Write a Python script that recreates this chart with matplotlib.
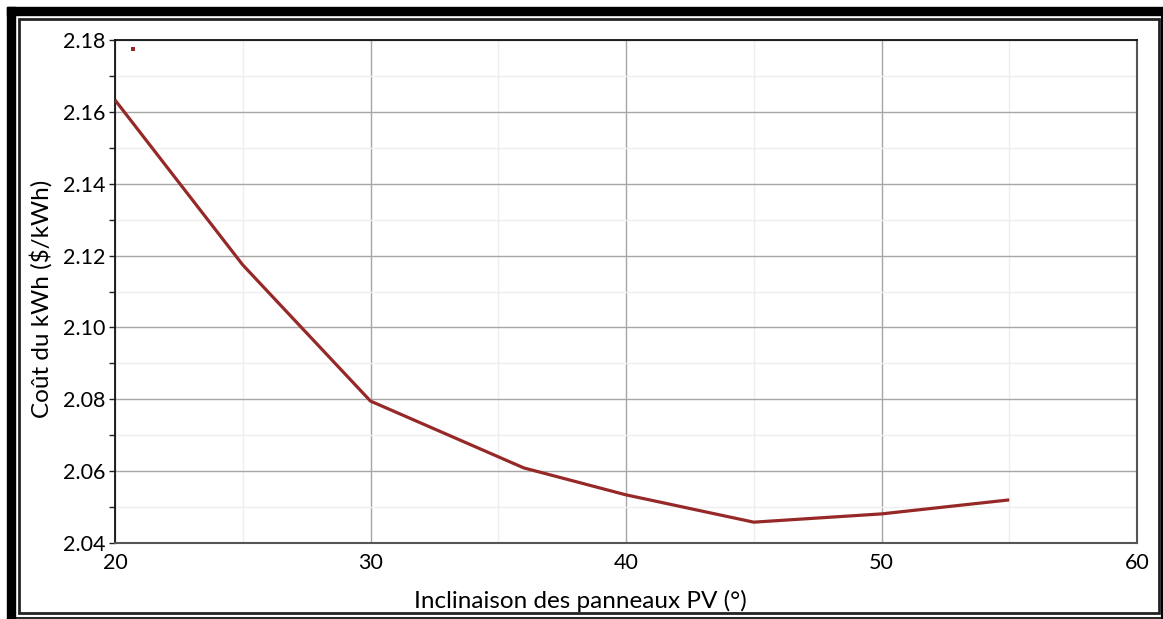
import matplotlib
matplotlib.use("Agg")
import matplotlib.pyplot as plt
from matplotlib.patches import Rectangle
from matplotlib.lines import Line2D
import numpy as np

# Data
inclinaison = [20, 25, 30, 36, 40, 45, 50, 55]
cout_kwh = [2.1633, 2.1174, 2.0795, 2.0609, 2.0534, 2.0458, 2.0481, 2.0520]
stray_x = [20.7]
stray_y = [2.1775]

x_ticks = [20, 30, 40, 50, 60]
y_ticks = [2.04, 2.06, 2.08, 2.10, 2.12, 2.14, 2.16, 2.18]
x_label = "Inclinaison des panneaux PV (°)"
y_label = "Coût du kWh ($/kWh)"

plt.rcParams['font.family'] = ['Lato', 'DejaVu Sans']

W, H = 1163, 619
fig = plt.figure(figsize=(W / 100, H / 100), dpi=100)

def fx(px):
    return px / W

def fy(py):
    return 1 - py / H

ax = fig.add_axes([fx(115), fy(543), fx(1137) - fx(115), fy(40) - fy(543)])

line_color = '#962828'
ax.plot(inclinaison, cout_kwh, color=line_color, lw=2.3, solid_capstyle='butt', zorder=3)
ax.plot(stray_x, stray_y, marker='s', ms=2.6, mew=0, color=line_color, ls='none', zorder=3)

ax.set_xlim(20, 60)
ax.set_ylim(2.04, 2.18)
ax.set_xticks(x_ticks)
ax.set_xticks([25, 35, 45, 55], minor=True)
ax.set_yticks(y_ticks)
ax.set_yticks([2.05, 2.07, 2.09, 2.11, 2.13, 2.15, 2.17], minor=True)
ax.set_xticklabels([str(v) for v in x_ticks], fontsize=15.5)
ax.set_yticklabels([f"{v:.2f}" for v in y_ticks], fontsize=15.5)

ax.grid(which='major', color='#a6a6a6', lw=1.0, zorder=0)
ax.grid(which='minor', color='#eeeeee', lw=1.0, zorder=0)
ax.set_axisbelow(True)

ax.tick_params(axis='x', which='both', length=0, pad=7)
ax.tick_params(axis='y', which='both', length=4, width=1, direction='out', pad=3, color='#222222')

for s in ['left', 'top']:
    ax.spines[s].set_color('#111111')
    ax.spines[s].set_linewidth(1.3)
for s in ['right', 'bottom']:
    ax.spines[s].set_color('#555555')
    ax.spines[s].set_linewidth(1.5)

fig.text(fx(580), fy(601), x_label, fontsize=17.5, ha='center', va='center')
fig.text(fx(41), fy(299), y_label, fontsize=17.5, ha='center', va='center', rotation=90)

# Frame borders
fig.patches.append(Rectangle((fx(7), fy(15)), 1 - fx(7), fy(7) - fy(15),
                             transform=fig.transFigure, color='black', zorder=10))
fig.patches.append(Rectangle((fx(7), 0), fx(15) - fx(7), fy(7),
                             transform=fig.transFigure, color='black', zorder=10))
fig.patches.append(Rectangle((fx(19), fy(613)), fx(1159) - fx(19), fy(19) - fy(613),
                             transform=fig.transFigure, fill=False, ec='#222222', lw=2.0, zorder=10))
fig.lines.append(Line2D([fx(15), 1], [fy(617.5), fy(617.5)], transform=fig.transFigure,
                        color='black', lw=1.2, zorder=10))
fig.lines.append(Line2D([fx(1161.5), fx(1161.5)], [fy(15), fy(619)], transform=fig.transFigure,
                        color='black', lw=1.5, zorder=10))

fig.savefig("out.png", dpi=100)
